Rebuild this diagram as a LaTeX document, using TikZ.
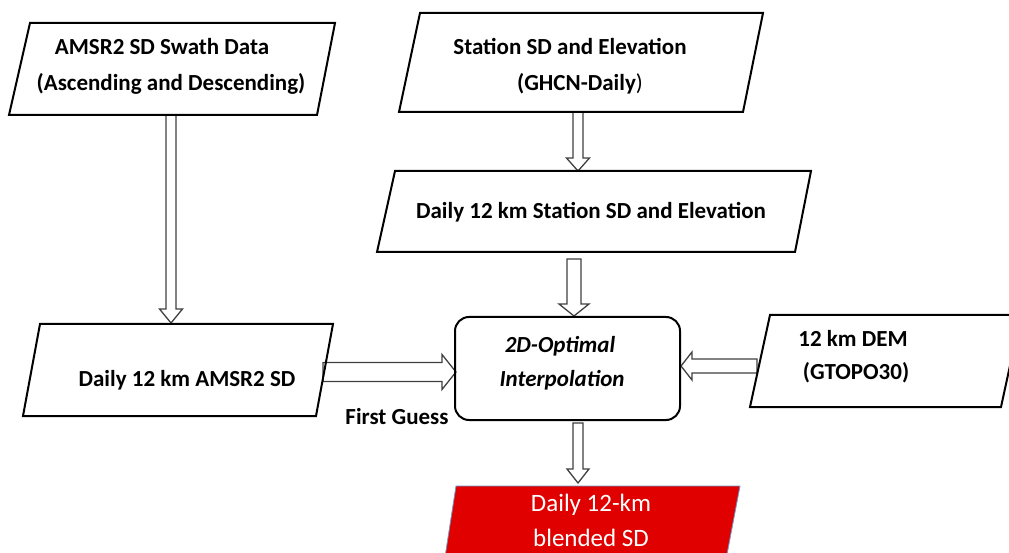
\documentclass[tikz,border=0pt]{standalone}
\usepackage{fontspec}
\setmainfont{Carlito}
\usetikzlibrary{calc}
\definecolor{blendred}{HTML}{E00000}
\definecolor{arrowgray}{HTML}{404040}
\definecolor{rededge}{HTML}{6C9AC8}
\newcommand\blkdown[5]{\draw[blockarr] let \p1=(#1), \p2=(#2) in
  (\x2-#3pt,\y1) -- (\x2-#3pt,\y2+#5pt) -- (\x2-#4pt,\y2+#5pt) -- (\x2,\y2) --
  (\x2+#4pt,\y2+#5pt) -- (\x2+#3pt,\y2+#5pt) -- (\x2+#3pt,\y1) -- cycle;}
\newcommand\blkright[5]{\draw[blockarr] let \p1=(#1), \p2=(#2) in
  (\x1,\y2+#3pt) -- (\x2-#5pt,\y2+#3pt) -- (\x2-#5pt,\y2+#4pt) -- (\x2,\y2) --
  (\x2-#5pt,\y2-#4pt) -- (\x2-#5pt,\y2-#3pt) -- (\x1,\y2-#3pt) -- cycle;}
\newcommand\blkleft[5]{\draw[blockarr] let \p1=(#1), \p2=(#2) in
  (\x1,\y2+#3pt) -- (\x2+#5pt,\y2+#3pt) -- (\x2+#5pt,\y2+#4pt) -- (\x2,\y2) --
  (\x2+#5pt,\y2-#4pt) -- (\x2+#5pt,\y2-#3pt) -- (\x1,\y2-#3pt) -- cycle;}
\tikzset{
  box/.style={draw=black, line width=2pt, line join=miter},
  lbl/.style={font=\fontsize{23}{28}\selectfont\bfseries, anchor=base, inner sep=0pt},
  redlbl/.style={font=\fontsize{25}{30}\selectfont, text=white, anchor=base, inner sep=0pt},
  blockarr/.style={draw=arrowgray, line width=1.3pt, fill=white, line join=miter}
}
\begin{document}
\begin{tikzpicture}[x=1pt,y=1pt]
\useasboundingbox (0,0) rectangle (1009,552);
\clip (0,0) rectangle (1009,552);
% arrow end points
\coordinate (b1s) at (171,437); \coordinate (b4n) at (171,229);
\coordinate (b2s) at (578,440); \coordinate (b3n) at (578,381);
\coordinate (b3s) at (574,293); \coordinate (oin) at (574,236);
\coordinate (b4e) at (323,180); \coordinate (oiw) at (456,180);
\coordinate (deme) at (757,186); \coordinate (oie) at (681,186);
\coordinate (ois) at (578,129); \coordinate (redn) at (578,69);
% arrows
\blkdown{b1s}{b4n}{5}{11.5}{14}
\blkdown{b2s}{b3n}{5}{11.5}{13}
\blkdown{b3s}{oin}{7}{15}{12}
\blkright{b4e}{oiw}{9.5}{17.5}{14}
\blkleft{deme}{oie}{7}{14}{11}
\blkdown{ois}{redn}{5}{11}{14}
% boxes
\draw[box] (30,529) -- (335,529) -- (317,437) -- (9,437) -- cycle;
\draw[box] (420,539) -- (763,539) -- (743,440) -- (399,440) -- cycle;
\draw[box] (395,381) -- (811,381) -- (795,300) -- (377,300) -- cycle;
\draw[box] (40,228) -- (333,228) -- (316,136) -- (23,136) -- cycle;
\draw[box] (770,237) -- (1021,237) -- (1001,145) -- (750,145) -- cycle;
\draw[box, rounded corners=14pt] (455,132) rectangle (680,235);
\draw[fill=blendred, draw=rededge, line width=0.8pt] (456,66) -- (740,66) -- (724,-18) -- (443,-18) -- cycle;
% texts
\node[lbl] (t1a) at (162,497) {AMSR2 SD Swath Data};
\node[lbl] (t1b) at (171,461) {(Ascending and Descending)};
\node[lbl] (t2a) at (570,497) {Station SD and Elevation};
\node[lbl] (t2b) at (580,461) {(GHCN-Daily\textmd{)}};
\node[lbl] (t3) at (591,333) {Daily 12 km Station SD and Elevation};
\node[lbl] (t4) at (187,166) {Daily 12 km AMSR2 SD};
\node[lbl] (fg) at (397,128) {First Guess};
\node[lbl, font=\fontsize{23}{28}\selectfont\bfseries\itshape] (oi1) at (560,199) {2D-Optimal};
\node[lbl, font=\fontsize{23}{28}\selectfont\bfseries\itshape] (oi2) at (562,165) {Interpolation};
\node[lbl] (dem1) at (853,205) {12 km DEM};
\node[lbl] (dem2) at (856,172) {(GTOPO30)};
\node[redlbl] (r1) at (591,41) {Daily 12-km};
\node[redlbl] (r2) at (591,6) {blended SD};
\end{tikzpicture}
\end{document}
